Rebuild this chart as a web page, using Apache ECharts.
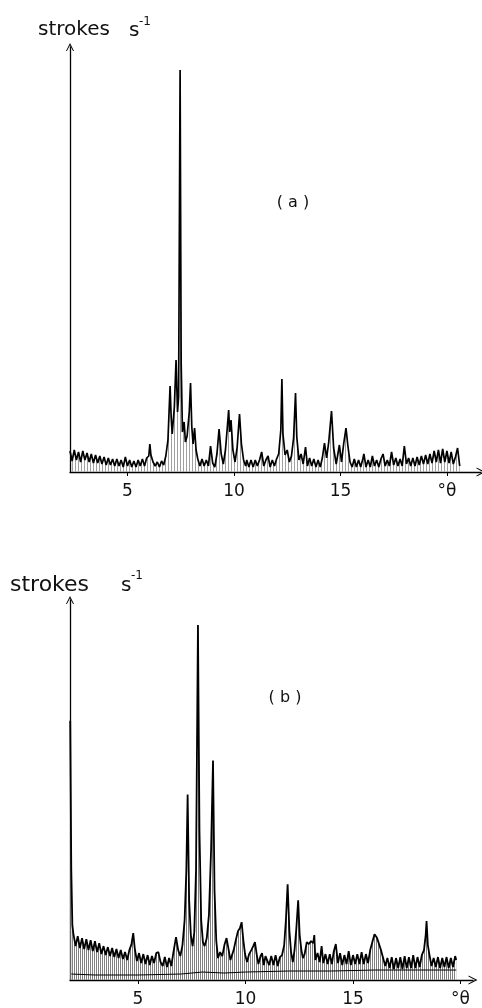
<!DOCTYPE html>
<html>
<head>
<meta charset="utf-8">
<script src="https://cdn.jsdelivr.net/npm/echarts@6/dist/echarts.min.js"></script>
<style>html,body{margin:0;padding:0;background:#fff}#c{width:482px;height:1008px}</style>
</head>
<body>
<div id="c"></div>
<script>
// Panel (a): [degrees theta, intensity (arbitrary units)]
const traceA = [
[2.3,21],[2.4,11],[2.5,22],[2.6,12],[2.7,20],[2.8,10],[2.9,21],[3.0,12],[3.1,19],[3.2,10],
[3.3,18],[3.4,9],[3.5,17],[3.6,9],[3.7,16],[3.8,8],[3.9,15],[4.0,7],[4.1,14],[4.2,7],
[4.3,13],[4.4,6],[4.5,13],[4.6,6],[4.7,12],[4.8,5],[4.9,15],[5.0,6],[5.1,12],[5.2,5],
[5.3,11],[5.4,5],[5.5,12],[5.6,6],[5.7,13],[5.8,6],[5.9,14],[6.0,16],[6.05,28],[6.1,17],
[6.2,10],[6.3,6],[6.4,10],[6.5,5],[6.6,11],[6.7,7],[6.8,16],[6.9,32],[7.0,86],[7.05,55],
[7.1,38],[7.2,65],[7.28,112],[7.35,60],[7.4,75],[7.47,402],[7.52,110],[7.58,40],[7.66,50],[7.72,30],
[7.8,36],[7.9,60],[7.96,89],[8.02,45],[8.08,28],[8.15,44],[8.22,22],[8.3,13],[8.4,6],[8.5,13],
[8.6,6],[8.7,12],[8.8,6],[8.9,26],[9.0,9],[9.1,5],[9.2,18],[9.3,43],[9.4,18],[9.5,8],
[9.6,22],[9.7,48],[9.75,62],[9.8,40],[9.86,52],[9.95,22],[10.05,10],[10.15,25],[10.26,58],[10.35,28],
[10.45,12],[10.55,6],[10.6,12],[10.7,5],[10.8,12],[10.9,5],[11.0,12],[11.1,6],[11.2,12],[11.3,20],
[11.4,6],[11.5,12],[11.6,16],[11.7,5],[11.8,12],[11.9,6],[12.0,13],[12.1,18],[12.2,42],[12.25,93],
[12.3,38],[12.4,17],[12.5,22],[12.6,10],[12.7,16],[12.8,34],[12.89,79],[12.95,35],[13.05,12],[13.15,18],
[13.25,8],[13.36,25],[13.45,6],[13.55,14],[13.65,6],[13.75,13],[13.85,5],[13.95,12],[14.05,5],[14.15,14],
[14.25,29],[14.35,14],[14.45,30],[14.58,61],[14.68,24],[14.8,8],[14.88,18],[14.95,27],[15.05,10],[15.15,28],
[15.26,44],[15.35,26],[15.45,10],[15.55,5],[15.65,13],[15.75,5],[15.85,12],[15.95,5],[16.05,13],[16.1,18],
[16.2,5],[16.3,12],[16.4,5],[16.5,16],[16.6,6],[16.7,12],[16.8,5],[16.9,13],[17.0,18],[17.1,6],
[17.2,12],[17.3,6],[17.4,20],[17.5,7],[17.6,14],[17.7,6],[17.8,13],[17.9,6],[18.0,26],[18.1,8],
[18.2,14],[18.3,6],[18.4,14],[18.5,6],[18.6,15],[18.7,7],[18.8,16],[18.9,8],[19.0,17],[19.1,8],
[19.2,18],[19.3,9],[19.4,21],[19.5,10],[19.6,22],[19.7,9],[19.8,23],[19.9,10],[20.0,21],[20.1,9],
[20.2,20],[20.3,8],[20.4,15],[20.5,24],[20.6,6]
];

// Panel (b): [degrees theta, intensity (arbitrary units)]
const traceB = [
[1.85,260],[1.9,110],[1.95,55],[2.0,46],[2.1,34],[2.2,44],[2.3,32],[2.4,42],[2.5,31],[2.6,41],
[2.7,30],[2.8,40],[2.9,29],[3.0,39],[3.1,28],[3.2,37],[3.3,26],[3.4,34],[3.5,25],[3.6,33],
[3.7,24],[3.8,32],[3.9,23],[4.0,31],[4.1,22],[4.2,30],[4.3,21],[4.4,28],[4.5,20],[4.6,30],
[4.7,36],[4.78,47],[4.85,32],[4.95,19],[5.05,27],[5.15,17],[5.25,26],[5.35,16],[5.45,25],[5.55,15],
[5.65,24],[5.75,17],[5.85,27],[5.95,28],[6.05,18],[6.15,14],[6.25,23],[6.35,13],[6.45,22],[6.55,14],
[6.65,28],[6.77,43],[6.87,30],[6.97,24],[7.07,35],[7.17,60],[7.25,110],[7.31,186],[7.38,80],[7.46,45],
[7.54,34],[7.62,48],[7.7,110],[7.79,356],[7.86,150],[7.94,60],[8.02,38],[8.1,34],[8.2,42],[8.3,65],
[8.4,130],[8.49,220],[8.56,90],[8.64,40],[8.72,22],[8.82,28],[8.92,24],[9.02,35],[9.12,42],[9.22,30],
[9.3,20],[9.37,22],[9.45,30],[9.55,40],[9.65,49],[9.74,52],[9.82,58],[9.9,40],[9.98,26],[10.07,18],
[10.17,26],[10.27,30],[10.36,34],[10.44,38],[10.52,26],[10.6,16],[10.7,24],[10.77,27],[10.85,15],[10.93,24],
[11.0,26],[11.1,15],[11.2,24],[11.3,15],[11.4,25],[11.5,14],[11.6,23],[11.7,25],[11.8,35],[11.88,60],
[11.96,96],[12.04,50],[12.12,28],[12.2,18],[12.28,30],[12.36,50],[12.45,80],[12.52,45],[12.6,30],[12.67,22],
[12.75,26],[12.85,38],[12.95,36],[13.05,39],[13.15,37],[13.2,45],[13.25,20],[13.35,27],[13.45,18],[13.54,34],
[13.62,17],[13.72,26],[13.82,16],[13.92,26],[14.02,16],[14.1,28],[14.2,36],[14.3,17],[14.4,27],[14.5,15],
[14.6,25],[14.7,16],[14.8,29],[14.9,15],[15.0,25],[15.1,16],[15.2,26],[15.3,16],[15.4,28],[15.5,16],
[15.6,26],[15.7,17],[15.8,30],[15.9,38],[16.0,46],[16.05,48],[16.12,42],[16.2,40],[16.3,30],[16.4,22],
[16.5,14],[16.6,22],[16.7,12],[16.8,23],[16.9,11],[17.0,22],[17.1,12],[17.2,23],[17.3,11],[17.4,24],
[17.5,12],[17.6,23],[17.7,12],[17.8,25],[17.9,12],[18.0,23],[18.1,13],[18.2,25],[18.3,30],[18.38,45],
[18.42,59],[18.48,35],[18.55,26],[18.65,14],[18.75,22],[18.85,13],[18.95,23],[19.05,12],[19.15,22],[19.25,13],
[19.35,23],[19.45,12],[19.55,22],[19.65,13],[19.75,24],[19.8,20]
];

// Panel (b): lower background trace
const backgroundB = [
[1.9,6],[3.0,5],[5.0,5],[7.0,6],[8.0,8],[9.0,7],[10.0,8],[12.0,9],[14.0,9],[16.0,10],[18.0,10],[19.8,10]
];

const tickValues = [5, 10, 15, 20];
const tickLabels = {5: '5', 10: '10', 15: '15', 20: '°θ'};

function hatch(period, color) {
  const c = document.createElement('canvas');
  c.width = period; c.height = 4;
  const g = c.getContext('2d');
  g.fillStyle = color;
  g.fillRect(0, 0, 1, 4);
  return c;
}

const FONT = "'DejaVu Sans', sans-serif";
const arrowPath = 'path://M0,12 L6,0 L12,12 L10.6,12 L6,3.2 L1.4,12 Z';

function xAxisFor(idx, min, max) {
  return {
    type: 'value', gridIndex: idx, min: min, max: max,
    axisLine: {show: true, lineStyle: {color: '#000', width: 1.3},
      symbol: ['none', arrowPath], symbolSize: [9, 11], symbolOffset: [0, 0]},
    axisTick: {show: true, customValues: tickValues, length: 4, inside: false,
      lineStyle: {color: '#000', width: 1}},
    axisLabel: {show: true, customValues: tickValues, margin: 11,
      formatter: v => tickLabels[v] || '', color: '#111', fontSize: 17, fontFamily: FONT},
    splitLine: {show: false}
  };
}
function yAxisFor(idx, max) {
  return {
    type: 'value', gridIndex: idx, min: 0, max: max,
    axisLine: {show: true, lineStyle: {color: '#000', width: 1.3},
      symbol: ['none', arrowPath], symbolSize: [8, 10]},
    axisTick: {show: false}, axisLabel: {show: false}, splitLine: {show: false}
  };
}

const chart = echarts.init(document.getElementById('c'), null, {renderer: 'canvas'});
chart.setOption({
  animation: false,
  backgroundColor: '#fff',
  grid: [
    {left: 70, top: 47, width: 411, height: 425},
    {left: 70, top: 600, width: 403, height: 381}
  ],
  xAxis: [xAxisFor(0, 2.3, 21.6), xAxisFor(1, 1.84, 20.58)],
  yAxis: [yAxisFor(0, 425), yAxisFor(1, 381)],
  series: [
    {type: 'line', xAxisIndex: 0, yAxisIndex: 0, data: traceA, symbol: 'none',
      lineStyle: {color: '#000', width: 1.7},
      areaStyle: {color: {image: hatch(3, '#a0a0a0'), repeat: 'repeat'}, opacity: 1}},
    {type: 'line', xAxisIndex: 1, yAxisIndex: 1, data: traceB, symbol: 'none',
      lineStyle: {color: '#000', width: 1.8},
      areaStyle: {color: {image: hatch(2, '#808080'), repeat: 'repeat'}, opacity: 1}},
    {type: 'line', xAxisIndex: 1, yAxisIndex: 1, data: backgroundB, symbol: 'none',
      lineStyle: {color: '#000', width: 1}}
  ],
  graphic: [
    {type: 'text', x: 38, y: 30, style: {text: 'strokes', font: "20px " + FONT, fill: '#111', verticalAlign: 'middle'}},
    {type: 'text', x: 129, y: 31, style: {text: 's', font: "20px " + FONT, fill: '#111', verticalAlign: 'middle'}},
    {type: 'text', x: 139, y: 22, style: {text: '-1', font: "12px " + FONT, fill: '#111', verticalAlign: 'middle'}},
    {type: 'text', x: 293, y: 203, style: {text: '( a )', font: "16px " + FONT, fill: '#111', align: 'center', verticalAlign: 'middle'}},
    {type: 'text', x: 10, y: 585, style: {text: 'strokes', font: "22px " + FONT, fill: '#111', verticalAlign: 'middle'}},
    {type: 'text', x: 121, y: 586, style: {text: 's', font: "20px " + FONT, fill: '#111', verticalAlign: 'middle'}},
    {type: 'text', x: 131, y: 576, style: {text: '-1', font: "12px " + FONT, fill: '#111', verticalAlign: 'middle'}},
    {type: 'text', x: 285, y: 698, style: {text: '( b )', font: "16px " + FONT, fill: '#111', align: 'center', verticalAlign: 'middle'}}
  ]
});
</script>
</body>
</html>
